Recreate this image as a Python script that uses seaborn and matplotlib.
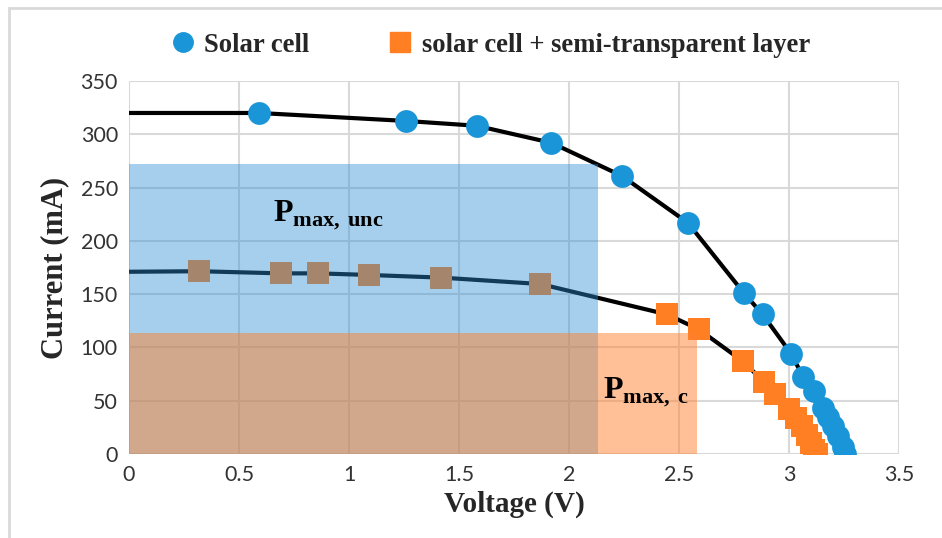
import matplotlib
matplotlib.use("Agg")
import matplotlib.pyplot as plt
from matplotlib.patches import Rectangle
from matplotlib.lines import Line2D
import seaborn as sns
import pandas as pd

# ---- data ----
solar_isc = 320
solar_v = [0.59, 1.26, 1.58, 1.92, 2.24, 2.54, 2.795, 2.88, 3.01, 3.065, 3.115,
           3.155, 3.177, 3.20, 3.223, 3.245, 3.255]
solar_i = [320, 312.5, 308, 292, 261, 217, 151, 131, 94, 72, 59,
           43, 35, 26, 17, 7, 0]

layer_isc = 171
layer_v = [0.32, 0.69, 0.86, 1.09, 1.42, 1.87, 2.445, 2.59, 2.79, 2.885, 2.935,
           3.0, 3.03, 3.06, 3.08, 3.10, 3.115, 3.125]
layer_i = [171.5, 169.5, 169.5, 168, 165.5, 159.5, 131, 117, 87, 68, 56,
           42, 34, 26, 18, 10, 4, 0]

# maximum power rectangles (V_mp, I_mp)
pmax_labels = ["unc", "c"]
pmax_v = [2.13, 2.58]
pmax_i = [272, 114]

series_names = ["Solar cell", "solar cell + semi-transparent layer"]
x_ticks = [0, 0.5, 1, 1.5, 2, 2.5, 3, 3.5]
x_ticklabels = ["0", "0.5", "1", "1.5", "2", "2.5", "3", "3.5"]
y_ticks = [0, 50, 100, 150, 200, 250, 300, 350]

BLUE = "#1A96D8"
ORANGE = "#FF7F22"
RECT_BLUE = "#2A8ED4"
RECT_ORANGE = "#FF8230"
SERIF = ["Liberation Serif", "DejaVu Serif"]

sns.set_theme(style="white")
plt.rcParams["font.family"] = ["Lato", "DejaVu Sans"]
plt.rcParams["mathtext.fontset"] = "custom"
plt.rcParams["mathtext.bf"] = "Liberation Serif:bold"
plt.rcParams["mathtext.rm"] = "Liberation Serif"

fig = plt.figure(figsize=(9.42, 5.38), dpi=100)
fig.patch.set_facecolor("white")
ax = fig.add_axes([129/942, 84/538, 770/942, 373/538])

df_solar = pd.DataFrame({"V": solar_v, "I": solar_i})
df_layer = pd.DataFrame({"V": layer_v, "I": layer_i})
line_solar = pd.DataFrame({"V": [0] + solar_v, "I": [solar_isc] + solar_i})
line_layer = pd.DataFrame({"V": [0] + layer_v, "I": [layer_isc] + layer_i})

sns.lineplot(data=line_solar, x="V", y="I", color="black", lw=3, sort=False,
             ax=ax, zorder=3, legend=False)
sns.lineplot(data=line_layer, x="V", y="I", color="black", lw=3, sort=False,
             ax=ax, zorder=3, legend=False)
sns.scatterplot(data=df_solar, x="V", y="I", color=BLUE, marker="o", s=270,
                linewidth=0, ax=ax, zorder=4, legend=False)
sns.scatterplot(data=df_layer, x="V", y="I", color=ORANGE, marker="s", s=250,
                linewidth=0, ax=ax, zorder=4, legend=False)

# Pmax rectangles on top
ax.add_patch(Rectangle((0, 0), pmax_v[0], pmax_i[0], facecolor=RECT_BLUE,
                       alpha=0.42, edgecolor="none", zorder=5))
ax.add_patch(Rectangle((0, 0), pmax_v[1], pmax_i[1], facecolor=RECT_ORANGE,
                       alpha=0.5, edgecolor="none", zorder=6))

ax.text(0.655, 218, r"$\mathbf{P}_{\mathbf{max,\!\ unc}}$", fontsize=23,
        color="black", ha="left", va="baseline", zorder=7)
ax.text(2.155, 52, r"$\mathbf{P}_{\mathbf{max,\!\ c}}$", fontsize=23,
        color="black", ha="left", va="baseline", zorder=7)

ax.set_xlim(0, 3.5)
ax.set_ylim(0, 350)
ax.set_xticks(x_ticks)
ax.set_xticklabels(x_ticklabels)
ax.set_yticks(y_ticks)
ax.grid(True, color="#D9D9D9", lw=1.5, zorder=0)
ax.set_axisbelow(True)
for s in ax.spines.values():
    s.set_visible(False)
ax.tick_params(axis="both", labelsize=15.5, colors="#333333", length=0, pad=8)

ax.set_xlabel("Voltage (V)", fontsize=21, fontweight="bold",
              family=SERIF, labelpad=4)
ax.set_ylabel("Current (mA)", fontsize=22, fontweight="bold",
              family=SERIF, labelpad=8)

handles = [
    Line2D([], [], marker="o", color=BLUE, linestyle="none", markersize=14),
    Line2D([], [], marker="s", color=ORANGE, linestyle="none", markersize=14),
]
fig.legend(handles, series_names, loc="center", bbox_to_anchor=(0.52, 0.916),
           ncol=2, frameon=False, handlelength=1.0, handletextpad=0.3,
           columnspacing=2.9,
           prop={"family": SERIF, "weight": "bold", "size": 19.2})

# chart-area border
fig.add_artist(Rectangle((9/942, -0.01), 1.0, 1 - 8/538 + 0.01,
                         transform=fig.transFigure, fill=False,
                         edgecolor="#D9D9D9", lw=2))

fig.savefig("out.png", dpi=100)
